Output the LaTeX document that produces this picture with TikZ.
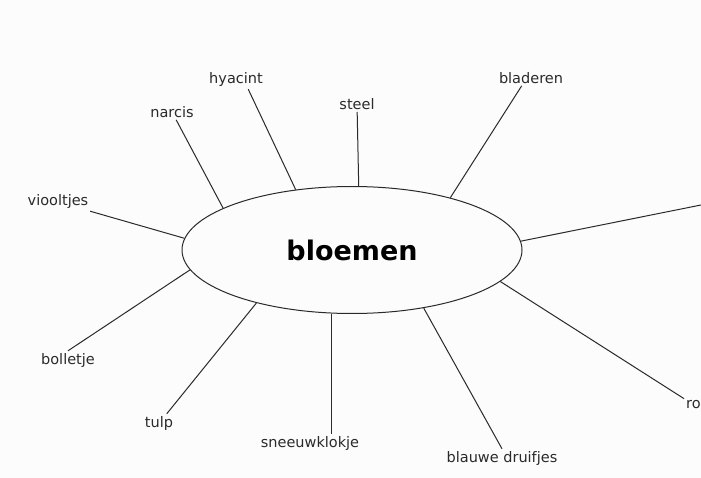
\documentclass[tikz,border=0pt]{standalone}
\usepackage{fontspec}
\setmainfont{DejaVu Sans}
\usetikzlibrary{shapes.geometric}
\definecolor{ink}{HTML}{2A2A2A}
\definecolor{paper}{HTML}{FCFCFC}

\begin{document}
\begin{tikzpicture}[x=1pt,y=-1pt,
  lbl/.style={text=ink,font=\fontsize{14.5}{16}\selectfont,inner sep=2pt},
  spoke/.style={draw=ink,line width=1pt}]
  \fill[paper] (0,0) rectangle (701,478);
  \useasboundingbox (0,0) rectangle (701,478);
  \node[ellipse,draw=ink,line width=1pt,minimum width=340pt,minimum height=127pt,inner sep=0pt,
        font=\fontsize{27}{30}\selectfont\bfseries,text=black] (c) at (352,250) {bloemen};
  \node[lbl] (viooltjes) at (58,202) {viooltjes};
  \node[lbl] (narcis) at (172,112) {narcis};
  \node[lbl] (hyacint) at (236,80) {hyacint};
  \node[lbl] (steel) at (357,104) {steel};
  \node[lbl] (bladeren) at (531,78) {bladeren};
  \node[lbl] (bolletje) at (68,360) {bolletje};
  \node[lbl] (tulp) at (159,423) {tulp};
  \node[lbl] (sneeuwklokje) at (310,443) {sneeuwklokje};
  \node[lbl] (blauwe) at (502,458) {blauwe druifjes};
  \node[lbl,anchor=west] (ro) at (684,405) {ro};
  \coordinate (rand) at (701,205);
  \draw[spoke] (viooltjes.-16) -- (c.176); \draw[spoke] (narcis) -- (c.162);
  \draw[spoke] (hyacint.-37) -- (c.133.6); \draw[spoke] (steel) -- (c.84.6);
  \draw[spoke] (bladeren.-140) -- (c.28.6); \draw[spoke] (c.3.4) -- (rand);
  \draw[spoke] (c.-12.7) -- (ro.north west); \draw[spoke] (c.-39.8) -- (blauwe.north);
  \draw[spoke] (c.252.4) -- (c.252.4 |- sneeuwklokje.north);
  \draw[spoke] (c.209) -- (tulp.50); \draw[spoke] (c.187.6) -- (bolletje.north);
\end{tikzpicture}
\end{document}
